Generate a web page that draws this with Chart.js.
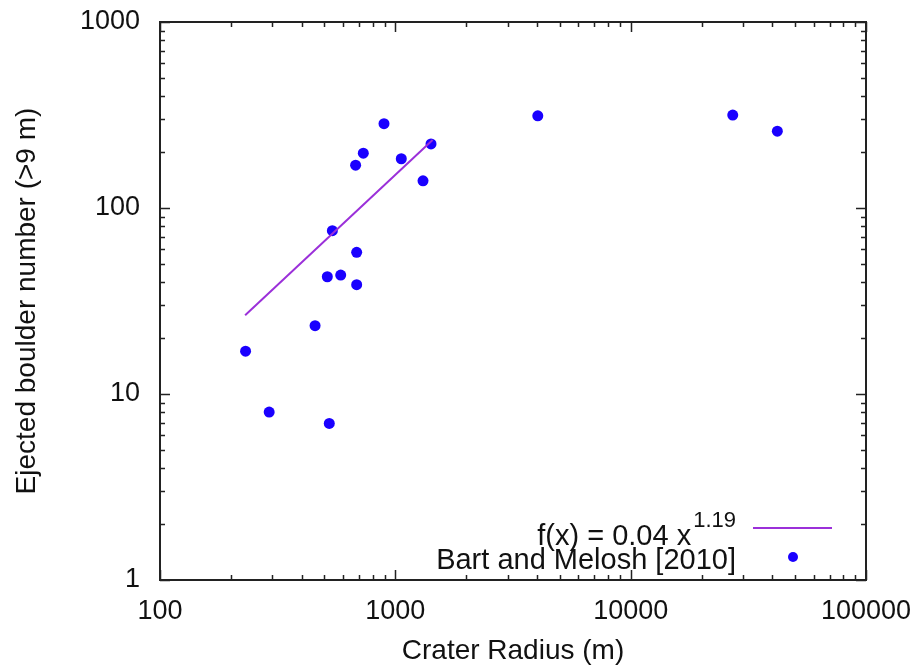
<!DOCTYPE html>
<html>
<head>
<meta charset="utf-8">
<script src="https://cdn.jsdelivr.net/npm/chart.js@4"></script>
<style>
body { margin: 0; background: #fff; }
canvas { display: block; }
</style>
</head>
<body>
<canvas id="chart" width="919" height="668"></canvas>
<script>
// crater radius (m) vs ejected boulders, Bart and Melosh [2010]
var craterRadius = [231, 291, 456, 514, 524, 540, 586, 678, 685, 685, 731, 895, 1060, 1311, 1418, 4030, 27150, 42000];
var boulderCount = [17.0, 8.0, 23.3, 42.7, 6.95, 75.5, 43.6, 170, 57.8, 38.7, 197, 284, 184, 140, 221, 313, 316, 259];
// fit line end points
var fitRadius = [230, 1440];
var fitCount = [26.5, 232];

var fitLabel = "f(x) = 0.04 x";
var fitExponent = "1.19";
var dataLabel = "Bart and Melosh [2010]";
var xTitle = "Crater Radius (m)";
var yTitle = "Ejected boulder number (>9 m)";
var xRange = [100, 100000];
var yRange = [1, 1000];

var fontFamily = "'Liberation Sans', Arial, Helvetica, sans-serif";
var pointColor = "#1a00ff";
var fitColor = "#9b30d9";

function toPoints(xs, ys){
    var pts = [];
    for(let i = 0; i < xs.length; i++){
        pts.push({x: xs[i], y: ys[i]});
    }
    return pts;
}

function isDecade(v){
    var l = Math.log10(v);
    return Math.abs(l - Math.round(l)) < 1e-9;
}

// drop the 1.5 / 15 style ticks chart.js adds on log scales
function keepWholeTicks(scale){
    scale.ticks = scale.ticks.filter(function(t){
        var p = Math.pow(10, Math.floor(Math.log10(t.value) + 1e-9));
        var s = t.value / p;
        return Math.abs(s - Math.round(s)) < 1e-6;
    });
}

function decadeLabel(value){
    return isDecade(value) ? String(Math.round(value)) : "";
}

//frame and inward ticks like gnuplot
var framePlugin = {
    id: "frame",
    afterDraw: function(chart){
        var ctx = chart.ctx;
        var a = chart.chartArea;
        var xs = chart.scales.x;
        var ys = chart.scales.y;
        ctx.save();
        ctx.strokeStyle = "#222";
        ctx.lineWidth = 1.5;
        ctx.beginPath();
        xs.ticks.forEach(function(t){
            var px = Math.round(xs.getPixelForValue(t.value)) + 0.5;
            var len = isDecade(t.value) ? 10 : 5;
            ctx.moveTo(px, a.bottom); ctx.lineTo(px, a.bottom - len);
            ctx.moveTo(px, a.top); ctx.lineTo(px, a.top + len);
        });
        ys.ticks.forEach(function(t){
            var py = Math.round(ys.getPixelForValue(t.value)) + 0.5;
            var len = isDecade(t.value) ? 10 : 5;
            ctx.moveTo(a.left, py); ctx.lineTo(a.left + len, py);
            ctx.moveTo(a.right, py); ctx.lineTo(a.right - len, py);
        });
        ctx.stroke();
        ctx.lineWidth = 2;
        ctx.strokeRect(a.left, a.top, a.right - a.left, a.bottom - a.top);
        ctx.restore();
    }
};

//key in the bottom right corner
var keyPlugin = {
    id: "key",
    afterDatasetsDraw: function(chart){
        var ctx = chart.ctx;
        var a = chart.chartArea;
        var textRight = a.right - 130;
        ctx.save();
        ctx.fillStyle = "#111";
        ctx.textBaseline = "alphabetic";
        // fit row
        ctx.font = "22px " + fontFamily;
        var supW = ctx.measureText(fitExponent).width;
        ctx.textAlign = "left";
        ctx.fillText(fitExponent, textRight - supW, a.bottom - 53);
        ctx.font = "29px " + fontFamily;
        ctx.textAlign = "right";
        ctx.fillText(fitLabel, textRight - supW - 2, a.bottom - 35);
        ctx.strokeStyle = fitColor;
        ctx.lineWidth = 2;
        ctx.beginPath();
        ctx.moveTo(a.right - 113, a.bottom - 52);
        ctx.lineTo(a.right - 34, a.bottom - 52);
        ctx.stroke();
        // data row
        ctx.fillText(dataLabel, textRight, a.bottom - 11);
        ctx.fillStyle = pointColor;
        ctx.beginPath();
        ctx.arc(a.right - 73, a.bottom - 23, 5, 0, Math.PI * 2);
        ctx.fill();
        ctx.restore();
    }
};

var chart = new Chart(document.getElementById("chart"), {
    type: "scatter",
    data: {
        datasets: [{
            label: fitLabel + fitExponent,
            data: toPoints(fitRadius, fitCount),
            showLine: true,
            borderColor: fitColor,
            borderWidth: 2,
            pointRadius: 0,
            fill: false
        }, {
            label: dataLabel,
            data: toPoints(craterRadius, boulderCount),
            pointRadius: 5.5,
            pointBackgroundColor: pointColor,
            pointBorderWidth: 0,
            showLine: false
        }]
    },
    options: {
        responsive: false,
        animation: false,
        devicePixelRatio: 1,
        layout: { padding: { top: 22, right: 53, left: 0, bottom: 0 } },
        plugins: {
            legend: { display: false },
            tooltip: { enabled: false }
        },
        scales: {
            x: {
                type: "logarithmic",
                position: "bottom",
                min: xRange[0],
                max: xRange[1],
                afterBuildTicks: keepWholeTicks,
                afterFit: function(s){
                    s.height = 88;
                    s.paddingLeft = 0;
                    s.paddingRight = 0;
                },
                grid: { display: false, drawTicks: false },
                border: { display: false },
                ticks: {
                    callback: decadeLabel,
                    autoSkip: false,
                    maxRotation: 0,
                    minRotation: 0,
                    padding: 15,
                    color: "#111",
                    font: { family: fontFamily, size: 27 }
                },
                title: {
                    display: true,
                    text: xTitle,
                    color: "#111",
                    padding: { top: 0, bottom: 0 },
                    font: { family: fontFamily, size: 28 }
                }
            },
            y: {
                type: "logarithmic",
                position: "left",
                min: yRange[0],
                max: yRange[1],
                afterBuildTicks: keepWholeTicks,
                afterFit: function(s){
                    s.width = 160;
                    s.paddingTop = 0;
                    s.paddingBottom = 0;
                },
                grid: { display: false, drawTicks: false },
                border: { display: false },
                ticks: {
                    callback: decadeLabel,
                    autoSkip: false,
                    padding: 20,
                    color: "#111",
                    font: { family: fontFamily, size: 27 }
                },
                title: {
                    display: true,
                    text: yTitle,
                    color: "#111",
                    padding: { top: 10, bottom: 0 },
                    font: { family: fontFamily, size: 28 }
                }
            }
        }
    },
    plugins: [framePlugin, keyPlugin]
});
</script>
</body>
</html>
